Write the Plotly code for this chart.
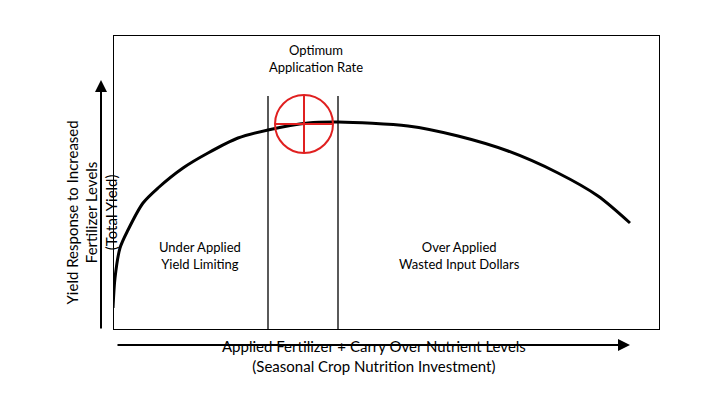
import plotly.graph_objects as go

# yield response curve (x: fertilizer level, y: yield)
fert_level = [0, 2, 7, 15, 30, 45, 70, 95, 125, 155, 195, 225, 295, 345, 395, 445, 485, 517]
total_yield = [22, 52, 82, 100, 127, 142, 162, 177, 192, 200, 207, 208, 204, 194, 179, 157, 134, 107]

opt_left, opt_right = 155, 225
circle_x, circle_y, circle_r = 191, 206, 29

X_MAX, Y_MAX = 547, 295
FONT = "Lato"

fig = go.Figure()
fig.add_trace(go.Scatter(x=fert_level, y=total_yield, mode="lines",
                         line=dict(color="black", width=3, shape="spline", smoothing=0.8),
                         hoverinfo="skip"))

shapes = [
    dict(type="line", x0=opt_left, x1=opt_left, y0=0, y1=234, line=dict(color="black", width=1.3)),
    dict(type="line", x0=opt_right, x1=opt_right, y0=0, y1=234, line=dict(color="black", width=1.3)),
    dict(type="circle", x0=circle_x - circle_r, x1=circle_x + circle_r,
         y0=circle_y - circle_r, y1=circle_y + circle_r, line=dict(color="#e02020", width=2)),
    dict(type="line", x0=circle_x - circle_r, x1=circle_x + circle_r, y0=circle_y, y1=circle_y,
         line=dict(color="#e02020", width=2)),
    dict(type="line", x0=circle_x, x1=circle_x, y0=circle_y - circle_r, y1=circle_y + circle_r,
         line=dict(color="#e02020", width=2)),
    dict(type="rect", x0=0, x1=X_MAX, y0=0, y1=Y_MAX, line=dict(color="black", width=2)),
]


def px(v):
    return v / X_MAX


def py(v):
    return v / Y_MAX


txt = dict(color="black", size=13, family=FONT)
annotations = [
    dict(x=203, y=272, text="Optimum<br>Application Rate", showarrow=False, font=txt),
    dict(x=87, y=75, text="Under Applied<br>Yield Limiting", showarrow=False, font=txt),
    dict(x=346, y=75, text="Over Applied<br>Wasted Input Dollars", showarrow=False, font=txt),
    # axis arrows
    dict(xref="paper", yref="paper", x=px(-12), y=py(250), ax=0, ay=250, text="", showarrow=True,
         arrowhead=2, arrowsize=1.2, arrowwidth=2, arrowcolor="black"),
    dict(xref="paper", yref="paper", x=px(517), y=py(-15), ax=-514, ay=0, text="", showarrow=True,
         arrowhead=2, arrowsize=1.2, arrowwidth=2, arrowcolor="black"),
    dict(xref="paper", yref="paper", x=px(261), y=py(-47),
         text="Applied Fertilizer + Carry Over Nutrient Levels<br>(Seasonal Crop Nutrition Investment)",
         showarrow=False, font=dict(color="black", size=15, family=FONT)),
    dict(xref="paper", yref="paper", x=px(-53), y=py(117),
         text="Yield Response to Increased<br>Fertilizer Levels<br>(Total Yield)",
         showarrow=False, textangle=-90, font=dict(color="black", size=15, family=FONT)),
]

fig.update_layout(
    width=707, height=410,
    margin=dict(l=105, r=55, t=27, b=88),
    paper_bgcolor="white", plot_bgcolor="white",
    showlegend=False, shapes=shapes, annotations=annotations,
    xaxis=dict(range=[0, X_MAX], visible=False),
    yaxis=dict(range=[0, Y_MAX], visible=False),
)

fig.write_html("out.html")
